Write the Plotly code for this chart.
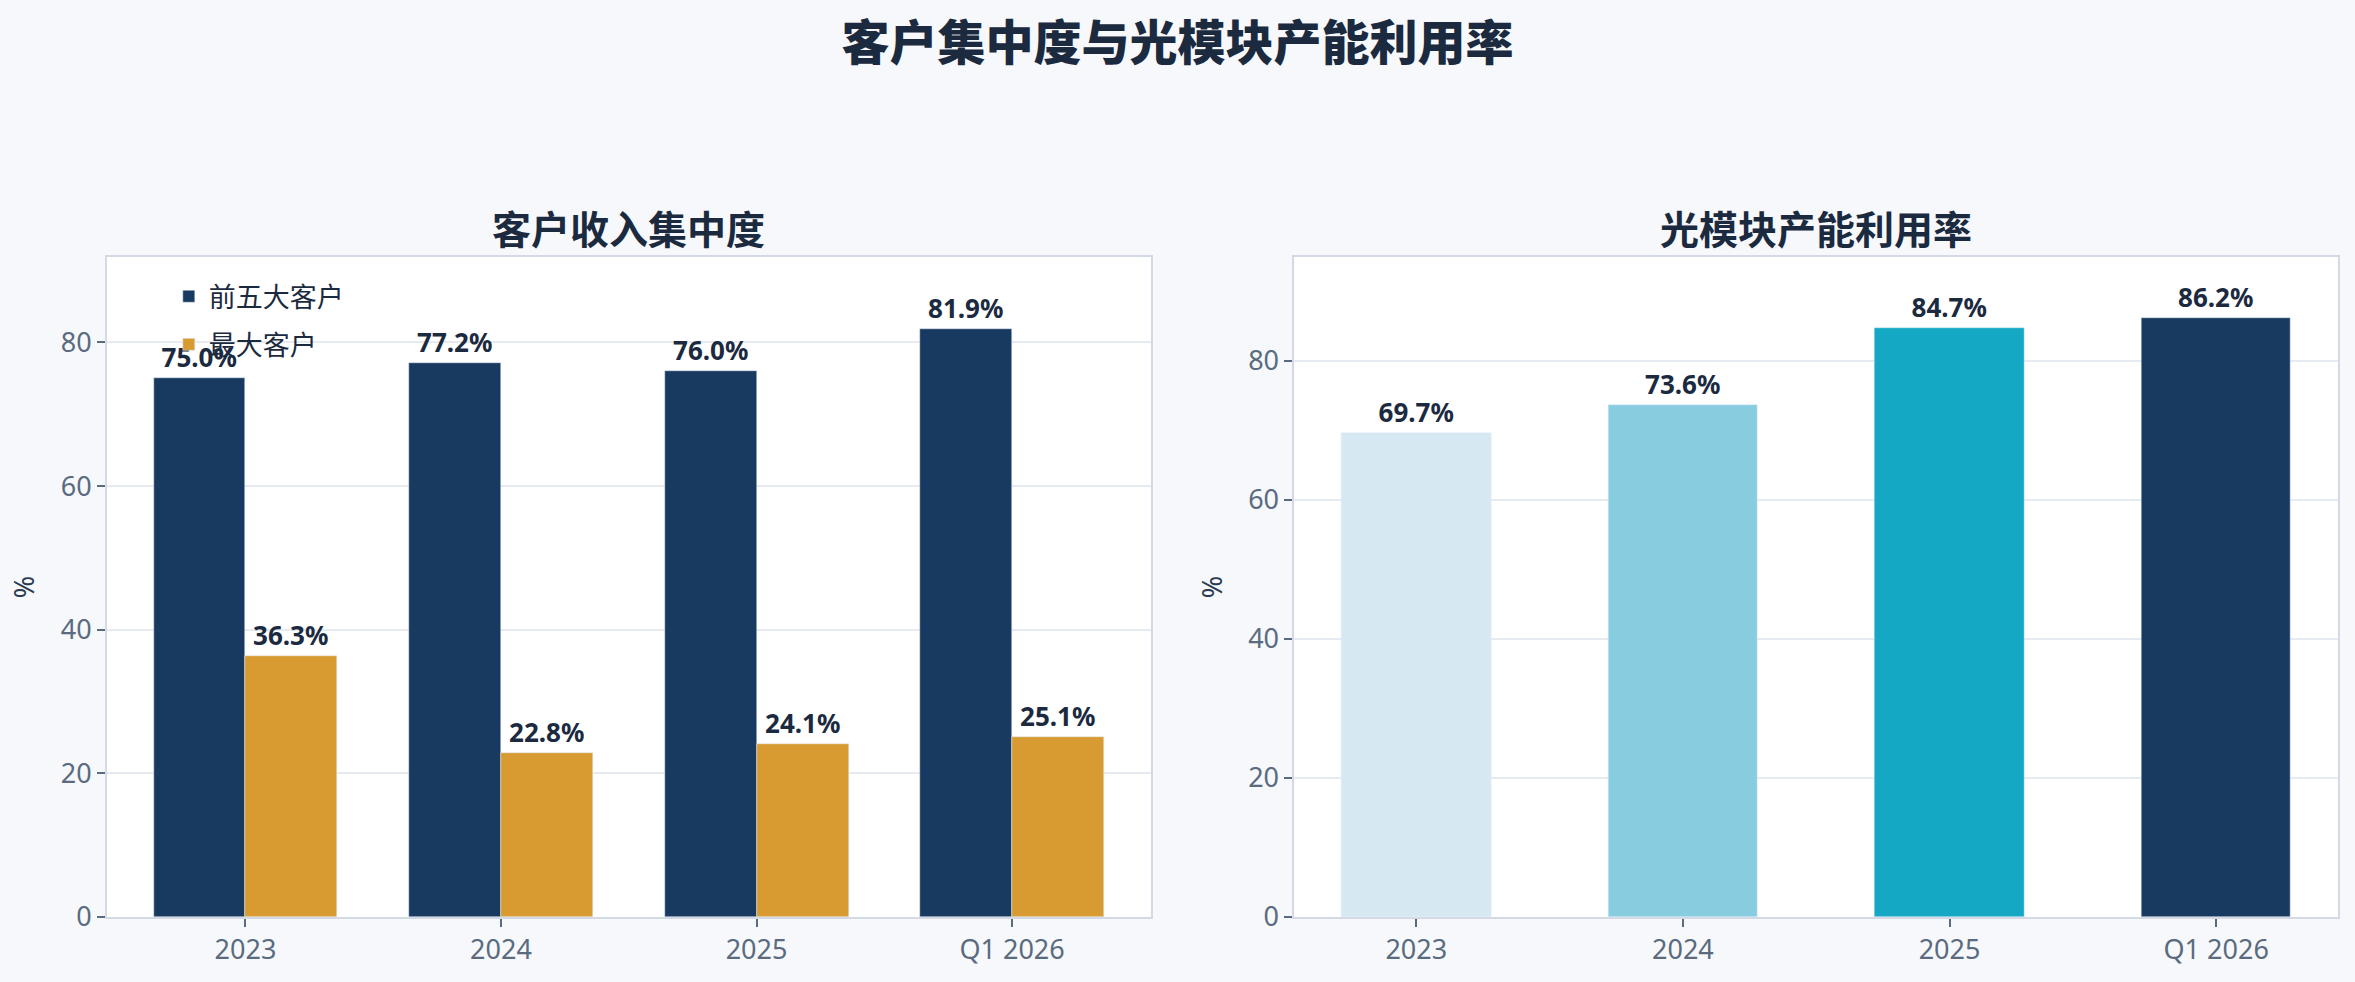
import plotly.graph_objects as go
from plotly.subplots import make_subplots

categories = ["2023", "2024", "2025", "Q1 2026"]
top5_share = [75.0, 77.2, 76.0, 81.9]
largest_share = [36.3, 22.8, 24.1, 25.1]
utilization = [69.7, 73.6, 84.7, 86.2]
util_colors = ["#D6E8F2", "#88CCDF", "#14A8C4", "#183A60"]

FONT = "Noto Sans, Noto Sans CJK SC, sans-serif"
DARK = "#1B2A3F"
TICK = "#5A6B80"

fig = make_subplots(rows=1, cols=2, subplot_titles=("客户收入集中度", "光模块产能利用率"),
                    horizontal_spacing=0.0645)

label_font = dict(size=26, color=DARK, family=FONT, weight="bold")
fig.add_trace(go.Bar(x=categories, y=top5_share, name="前五大客户", marker_color="#183A60",
                     text=[f"{v:.1f}%" for v in top5_share], textposition="outside",
                     textfont=label_font, width=0.36, offset=-0.36, cliponaxis=False,
                     legendgroup="a"), row=1, col=1)
fig.add_trace(go.Bar(x=categories, y=largest_share, name="最大客户", marker_color="#D79B32",
                     text=[f"{v:.1f}%" for v in largest_share], textposition="outside",
                     textfont=label_font, width=0.36, offset=0.0, cliponaxis=False,
                     legendgroup="b"), row=1, col=1)
fig.add_trace(go.Bar(x=categories, y=utilization, name="产能利用率", marker_color=util_colors,
                     text=[f"{v:.1f}%" for v in utilization], textposition="outside",
                     textfont=label_font, width=0.56, showlegend=False, cliponaxis=False),
              row=1, col=2)

axis_common = dict(showline=True, linecolor="#D3DAE5", linewidth=2, mirror=True,
                   ticks="outside", ticklen=8, tickwidth=2, tickcolor=TICK,
                   tickfont=dict(size=27, color=TICK, family=FONT))
fig.update_xaxes(**axis_common, showgrid=False)
fig.update_yaxes(**axis_common, showgrid=True, gridcolor="#E6EBF1", gridwidth=2,
                 dtick=20, zeroline=False,
                 title=dict(text="%", font=dict(size=27, color="#2A3A50", family=FONT), standoff=18))
fig.update_xaxes(range=[-0.542, 3.542], row=1, col=1)
fig.update_xaxes(range=[-0.457, 3.457], row=1, col=2)
fig.update_yaxes(range=[0, 91.9], row=1, col=1)
fig.update_yaxes(range=[0, 94.95], row=1, col=2)

for ann in fig.layout.annotations:
    ann.font = dict(size=39, color=DARK, family=FONT, weight="bold")

fig.update_layout(
    width=2355, height=982,
    margin=dict(l=107, r=17, t=257, b=65),
    paper_bgcolor="#F6F8FB", plot_bgcolor="#FFFFFF",
    font=dict(family=FONT, color=DARK),
    title=dict(text="客户集中度与光模块产能利用率", x=0.5, xanchor="center",
               y=1 - 43 / 982, yanchor="middle", yref="container",
               font=dict(size=48, color=DARK, family=FONT, weight=900)),
    legend=dict(x=0.0277, y=0.977, xanchor="left", yanchor="top", bgcolor="rgba(0,0,0,0)",
                font=dict(size=27, color=DARK, family=FONT), tracegroupgap=10,
                traceorder="grouped"),
    barmode="overlay",
    bargap=0,
)

fig.write_html("out.html", config={"displayModeBar": False},
               post_script="document.body.style.margin='0';document.body.style.background='#F6F8FB';")
